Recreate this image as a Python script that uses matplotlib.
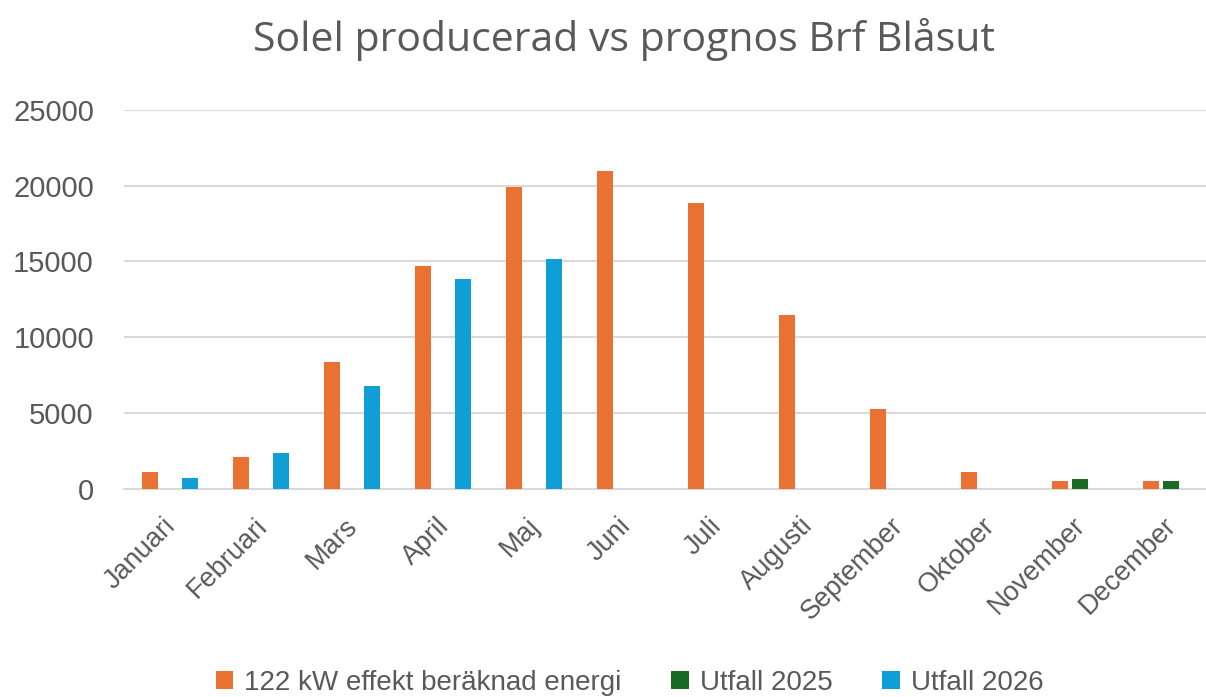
import numpy as np
import matplotlib.pyplot as plt
from matplotlib.transforms import ScaledTranslation

# Data (kWh per month)
months = ['Januari', 'Februari', 'Mars', 'April', 'Maj', 'Juni', 'Juli',
          'Augusti', 'September', 'Oktober', 'November', 'December']
prognos = [1100, 2130, 8390, 14720, 19930, 20980, 18870, 11490, 5250, 1100, 550, 550]
utfall_2025 = [0, 0, 0, 0, 0, 0, 0, 0, 0, 0, 660, 540]
utfall_2026 = [750, 2390, 6770, 13820, 15180, 0, 0, 0, 0, 0, 0, 0]
series_names = ['122 kW effekt beräknad energi', 'Utfall 2025', 'Utfall 2026']
yticks = [0, 5000, 10000, 15000, 20000, 25000]

ORANGE = '#E97132'
GREEN = '#196B24'
BLUE = '#0F9ED5'
TEXT = '#595959'
GRID = '#D9D9D9'

fig = plt.figure(figsize=(12.06, 6.97), dpi=100)
fig.patch.set_facecolor('white')
ax = fig.add_axes([0.1032, 0.2984, 0.8968, 0.5442])

x = np.arange(len(months))
w = 0.176
off = 0.22
ax.bar(x - off, prognos, w, color=ORANGE, label=series_names[0], zorder=3)
ax.bar(x, utfall_2025, w, color=GREEN, label=series_names[1], zorder=3)
ax.bar(x + off, utfall_2026, w, color=BLUE, label=series_names[2], zorder=3)

ax.set_ylim(0, 25000)
ax.set_xlim(-0.5, 11.39)
ax.set_yticks(yticks)
ax.set_yticklabels([str(v) for v in yticks], fontsize=21, color=TEXT,
                   family='Liberation Sans')
ax.set_xticks(x)
ax.set_xticklabels(months, rotation=45, ha='right', rotation_mode='anchor',
                   fontsize=19.5, color=TEXT, family='Liberation Sans')
ax.tick_params(axis='y', length=0, pad=22)
ax.tick_params(axis='x', length=0, pad=17)

# nudge month labels slightly left, like the Excel original
shift = ScaledTranslation(-7 / 100, 0, fig.dpi_scale_trans)
for lbl in ax.get_xticklabels():
    lbl.set_transform(lbl.get_transform() + shift)

ax.grid(axis='y', color=GRID, linewidth=1.5, zorder=0)
for s in ['top', 'right', 'left']:
    ax.spines[s].set_visible(False)
ax.spines['bottom'].set_color(GRID)
ax.spines['bottom'].set_linewidth(1.5)

fig.text(0.517, 0.944, 'Solel producerad vs prognos Brf Blåsut', ha='center',
         va='center', fontsize=29.5, color=TEXT, family='Open Sans')

leg = fig.legend(loc='center', bbox_to_anchor=(0.522, 0.02), ncol=3,
                 frameon=False, handlelength=0.62, handleheight=0.6,
                 handletextpad=0.4, columnspacing=1.8,
                 prop={'family': 'Liberation Sans', 'size': 20})
for t in leg.get_texts():
    t.set_color(TEXT)

fig.savefig('out.png', dpi=100, facecolor='white')
